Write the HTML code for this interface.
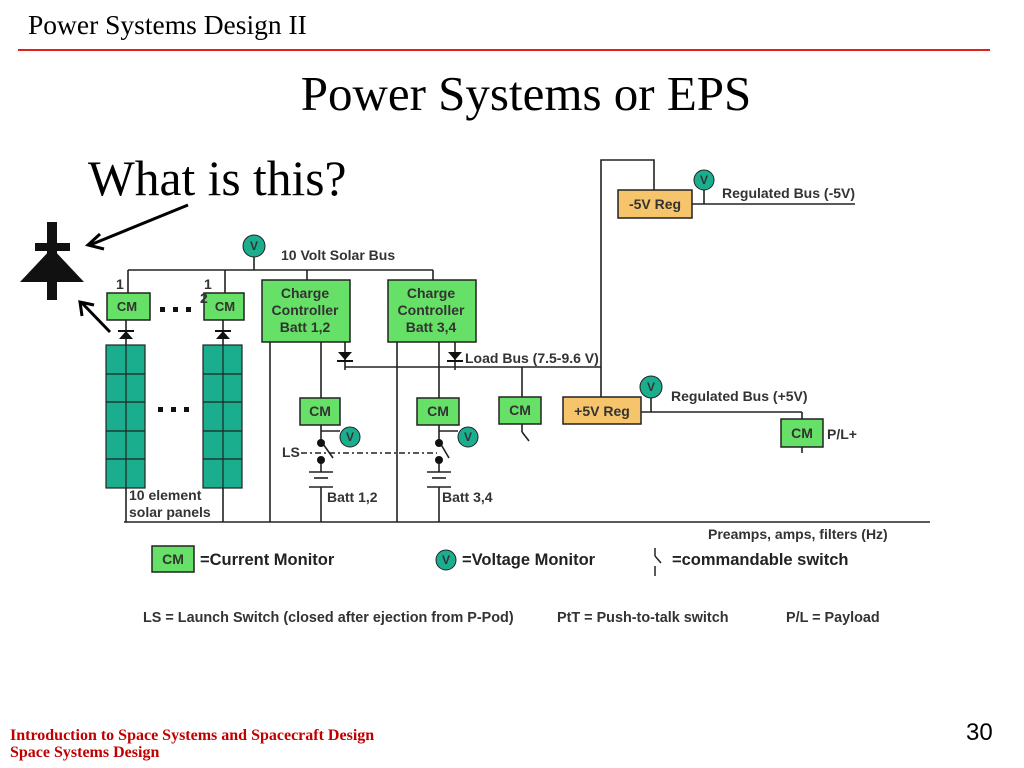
<!DOCTYPE html>
<html><head><meta charset="utf-8"><style>
body{margin:0;background:#fff;width:1024px;height:768px;overflow:hidden}
svg{display:block}
.d{font-family:"Liberation Sans",Arial,sans-serif;font-weight:bold;font-size:14px;fill:#333}
</style></head><body>
<svg width="1024" height="768" viewBox="0 0 1024 768" xmlns="http://www.w3.org/2000/svg">
<text x="28" y="34" font-family="Liberation Serif,serif" font-size="27.5" fill="#000">Power Systems Design II</text>
<line x1="18" y1="50" x2="990" y2="50" stroke="#e0201a" stroke-width="2"/>
<text x="526" y="110" text-anchor="middle" font-family="Liberation Serif,serif" font-size="49" fill="#000">Power Systems or EPS</text>
<text x="88" y="195" font-family="Liberation Serif,serif" font-size="49.5" fill="#000">What is this?</text>
<g fill="#111">
<rect x="47" y="222" width="10" height="78"/>
<rect x="35" y="243" width="35" height="8"/>
<polygon points="52,248 84,282 20,282"/>
</g>
<g stroke="#000" stroke-width="3" fill="none">
<line x1="188" y1="205" x2="90" y2="245"/><polyline points="100,234 88,245 104,249"/>
<line x1="110" y1="332" x2="82" y2="303"/><polyline points="82,316 80,302 94,305"/>
</g>
<g stroke="#222" stroke-width="1.6" fill="none">
<line x1="128" y1="270" x2="433" y2="270"/>
<line x1="254" y1="256" x2="254" y2="270"/>
<line x1="128" y1="270" x2="128" y2="293"/>
<line x1="225" y1="270" x2="225" y2="293"/>
<line x1="307" y1="270" x2="307" y2="280"/>
<line x1="433" y1="270" x2="433" y2="280"/>
<line x1="126" y1="320" x2="126" y2="345"/>
<line x1="223" y1="320" x2="223" y2="345"/>
<line x1="126" y1="488" x2="126" y2="522"/>
<line x1="223" y1="488" x2="223" y2="522"/>
<line x1="124" y1="522" x2="930" y2="522"/>
<line x1="270" y1="342" x2="270" y2="522"/>
<line x1="397" y1="342" x2="397" y2="522"/>
<line x1="321" y1="342" x2="321" y2="398"/>
<line x1="439" y1="342" x2="439" y2="398"/>
<line x1="345" y1="342" x2="345" y2="370"/>
<line x1="455" y1="342" x2="455" y2="370"/>
<line x1="345" y1="367" x2="601" y2="367"/>
<line x1="522" y1="367" x2="522" y2="397"/>
<polyline points="601,397 601,160 654,160 654,190"/>
<line x1="692" y1="204" x2="855" y2="204"/>
<line x1="704" y1="190" x2="704" y2="204"/>
<line x1="641" y1="412" x2="802" y2="412"/>
<line x1="651" y1="397" x2="651" y2="412"/>
<line x1="802" y1="412" x2="802" y2="419"/>
<line x1="802" y1="447" x2="802" y2="453"/>
<line x1="522" y1="424" x2="522" y2="432"/><line x1="522" y1="432" x2="529" y2="441"/>
<line x1="321" y1="425" x2="321" y2="441"/><line x1="321" y1="431" x2="340" y2="431"/>
<line x1="321" y1="462" x2="321" y2="472"/><line x1="321" y1="441" x2="333" y2="458"/>
<line x1="309" y1="472" x2="333" y2="472"/><line x1="314" y1="478" x2="328" y2="478"/>
<line x1="309" y1="487" x2="333" y2="487"/><line x1="321" y1="487" x2="321" y2="522"/>
<line x1="439" y1="425" x2="439" y2="441"/><line x1="439" y1="431" x2="458" y2="431"/>
<line x1="439" y1="462" x2="439" y2="472"/><line x1="439" y1="441" x2="449" y2="458"/>
<line x1="427" y1="472" x2="451" y2="472"/><line x1="432" y1="478" x2="446" y2="478"/>
<line x1="427" y1="487" x2="451" y2="487"/><line x1="439" y1="487" x2="439" y2="522"/>
<line x1="301" y1="453" x2="437" y2="453" stroke-dasharray="6,3,2,3"/>
</g>
<g fill="#111">
<circle cx="321" cy="443" r="4"/><circle cx="321" cy="460" r="4"/>
<circle cx="439" cy="443" r="4"/><circle cx="439" cy="460" r="4"/>
<polygon points="119,339 133,339 126,331"/><rect x="118" y="330" width="16" height="2"/>
<polygon points="216,339 230,339 223,331"/><rect x="215" y="330" width="16" height="2"/>
<polygon points="338,352 352,352 345,360"/><rect x="337" y="360" width="16" height="2"/>
<polygon points="448,352 462,352 455,360"/><rect x="447" y="360" width="16" height="2"/>
<rect x="160" y="307" width="5" height="5"/><rect x="173" y="307" width="5" height="5"/><rect x="186" y="307" width="5" height="5"/>
<rect x="158" y="407" width="5" height="5"/><rect x="171" y="407" width="5" height="5"/><rect x="184" y="407" width="5" height="5"/>
</g>
<g fill="#1aae8e" stroke="#222" stroke-width="1.2">
<rect x="106" y="345" width="39" height="143"/><rect x="203" y="345" width="39" height="143"/>
</g>
<g stroke="#222" stroke-width="1.2">
<line x1="126" y1="345" x2="126" y2="488"/><line x1="223" y1="345" x2="223" y2="488"/>
<line x1="106" y1="374" x2="145" y2="374"/><line x1="106" y1="402" x2="145" y2="402"/><line x1="106" y1="431" x2="145" y2="431"/><line x1="106" y1="459" x2="145" y2="459"/>
<line x1="203" y1="374" x2="242" y2="374"/><line x1="203" y1="402" x2="242" y2="402"/><line x1="203" y1="431" x2="242" y2="431"/><line x1="203" y1="459" x2="242" y2="459"/>
</g>
<g fill="#66e066" stroke="#222" stroke-width="1.5">
<rect x="107" y="293" width="43" height="27"/><rect x="204" y="293" width="40" height="27"/>
<rect x="262" y="280" width="88" height="62"/><rect x="388" y="280" width="88" height="62"/>
<rect x="300" y="398" width="40" height="27"/><rect x="417" y="398" width="42" height="27"/>
<rect x="499" y="397" width="42" height="27"/><rect x="781" y="419" width="42" height="28"/>
<rect x="152" y="546" width="42" height="26"/>
</g>
<g fill="#f6c46a" stroke="#222" stroke-width="1.5">
<rect x="618" y="190" width="74" height="28"/><rect x="563" y="397" width="78" height="27"/>
</g>
<g fill="#1aae8e" stroke="#222" stroke-width="1">
<circle cx="254" cy="246" r="11"/><circle cx="350" cy="437" r="10"/><circle cx="468" cy="437" r="10"/>
<circle cx="704" cy="180" r="10"/><circle cx="651" cy="387" r="11"/><circle cx="446" cy="560" r="10"/>
</g>
<g class="d" text-anchor="middle" style="font-size:12px">
<text x="254" y="250">V</text><text x="350" y="441">V</text><text x="468" y="441">V</text>
<text x="704" y="184">V</text><text x="651" y="391">V</text><text x="446" y="564">V</text>
</g>
<g class="d" text-anchor="middle">
<text x="127" y="311" style="font-size:13px">CM</text><text x="225" y="311" style="font-size:13px">CM</text>
<text x="305" y="298">Charge</text><text x="305" y="315">Controller</text><text x="305" y="332">Batt 1,2</text>
<text x="431" y="298">Charge</text><text x="431" y="315">Controller</text><text x="431" y="332">Batt 3,4</text>
<text x="320" y="416">CM</text><text x="438" y="416">CM</text><text x="520" y="415">CM</text>
<text x="802" y="438">CM</text><text x="173" y="564">CM</text>
<text x="655" y="209">-5V Reg</text><text x="602" y="416">+5V Reg</text>
</g>
<g class="d">
<text x="116" y="289">1</text><text x="204" y="289">1</text><text x="200" y="303">2</text>
<text x="281" y="260">10 Volt Solar Bus</text>
<text x="465" y="363">Load Bus (7.5-9.6 V)</text>
<text x="722" y="198">Regulated Bus (-5V)</text>
<text x="671" y="401">Regulated Bus (+5V)</text>
<text x="827" y="439">P/L+</text>
<text x="282" y="457">LS</text>
<text x="327" y="502">Batt 1,2</text><text x="442" y="502">Batt 3,4</text>
<text x="129" y="500">10 element</text><text x="129" y="517">solar panels</text>
<text x="708" y="539">Preamps, amps, filters (Hz)</text>
<text x="200" y="565" style="font-size:16.5px" fill="#222">=Current Monitor</text>
<text x="462" y="565" style="font-size:16.5px" fill="#222">=Voltage Monitor</text>
<text x="672" y="565" style="font-size:16.5px" fill="#222">=commandable switch</text>
<text x="143" y="622" style="font-size:14.4px">LS = Launch Switch (closed after ejection from P-Pod)</text>
<text x="557" y="622" style="font-size:14.4px">PtT = Push-to-talk switch</text>
<text x="786" y="622" style="font-size:14.4px">P/L = Payload</text>
</g>
<g stroke="#222" stroke-width="1.5"><line x1="655" y1="548" x2="655" y2="556"/><line x1="655" y1="556" x2="661" y2="563"/><line x1="655" y1="566" x2="655" y2="576"/></g>
<text x="10" y="740" font-family="Liberation Serif,serif" font-weight="bold" font-size="16" fill="#c00000">Introduction to Space Systems and Spacecraft Design</text>
<text x="10" y="757" font-family="Liberation Serif,serif" font-weight="bold" font-size="16" fill="#c00000">Space Systems Design</text>
<text x="966" y="740" font-family="Liberation Sans,sans-serif" font-size="24" fill="#000">30</text>
</svg>
</body></html>
